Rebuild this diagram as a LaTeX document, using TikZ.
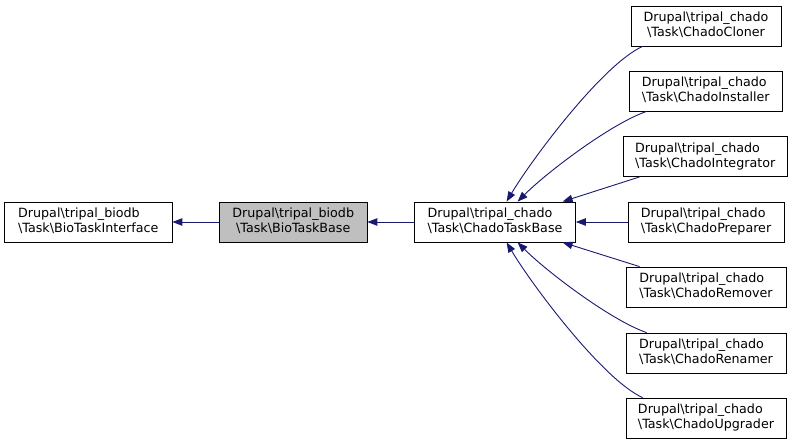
\documentclass[tikz,border=0pt]{standalone}
\usepackage{fontspec}
\setmainfont{DejaVu Sans}
\usetikzlibrary{arrows.meta,calc}
\definecolor{edgeblue}{RGB}{25,25,112}
\definecolor{basegray}{RGB}{191,191,191}
\newcommand\dlbl[2]{\begin{tabular}{@{}c@{}}\multicolumn{1}{@{}l@{}}{#1}\\#2\end{tabular}}
\newcommand\chado[1]{\dlbl{Drupal\textbackslash tripal\_chado}{\textbackslash Task\textbackslash #1}}
\newcommand\biodb[1]{\dlbl{Drupal\textbackslash tripal\_biodb}{\textbackslash Task\textbackslash #1}}
\tikzset{
  cls/.style={draw=black, line width=0.8pt, rectangle, inner sep=0pt, minimum height=40pt,
    font=\fontsize{12.7}{15}\selectfont, text=black, fill=white},
  edge/.style={draw=edgeblue, line width=0.9pt, -{Triangle[length=10pt,width=7.5pt]}},
}
\begin{document}
\begin{tikzpicture}[x=1pt,y=1pt]
\useasboundingbox (0,0) rectangle (793,-444);
\node[cls, minimum width=167.5pt] (iface) at (88.25,-222) {\biodb{BioTaskInterface}};
\node[cls, minimum width=147.5pt, fill=basegray] (base) at (293.25,-222) {\biodb{BioTaskBase}};
\node[cls, minimum width=161pt] (chado) at (495,-222) {\chado{ChadoTaskBase}};
\node[cls, minimum width=150pt] (cloner) at (706,-26) {\chado{ChadoCloner}};
\node[cls, minimum width=153.5pt] (installer) at (705.75,-91) {\chado{ChadoInstaller}};
\node[cls, minimum width=164.5pt] (integrator) at (705.25,-156.5) {\chado{ChadoIntegrator}};
\node[cls, minimum width=156pt] (preparer) at (706,-222) {\chado{ChadoPreparer}};
\node[cls, minimum width=160pt] (remover) at (706,-287) {\chado{ChadoRemover}};
\node[cls, minimum width=160pt] (renamer) at (706,-353) {\chado{ChadoRenamer}};
\node[cls, minimum width=160pt] (upgrader) at (706,-418) {\chado{ChadoUpgrader}};

\draw[edge] (base.west) -- (iface.east);
\draw[edge] (chado.west) -- (base.east);
\draw[edge] (preparer.west) -- (chado.east);

\draw[edge] ($(cloner.south west)+(12,0)$) .. controls +(-40,-18) and +(25,42) .. ($(chado.north west)+(92.5,0)$);
\draw[edge] ($(installer.south west)+(18,0)$) .. controls +(-35,-12) and +(30,30) .. ($(chado.north west)+(103.5,0)$);
\draw[edge] ($(integrator.south west)+(17,0)$) -- ($(chado.north west)+(148.5,0)$);
\draw[edge] ($(remover.north west)+(14,0)$) -- ($(chado.south west)+(148.5,0)$);
\draw[edge] ($(renamer.north west)+(21,0)$) .. controls +(-35,12) and +(30,-30) .. ($(chado.south west)+(103.5,0)$);
\draw[edge] ($(upgrader.north west)+(17,0)$) .. controls +(-40,18) and +(25,-42) .. ($(chado.south west)+(92.5,0)$);
\end{tikzpicture}
\end{document}
